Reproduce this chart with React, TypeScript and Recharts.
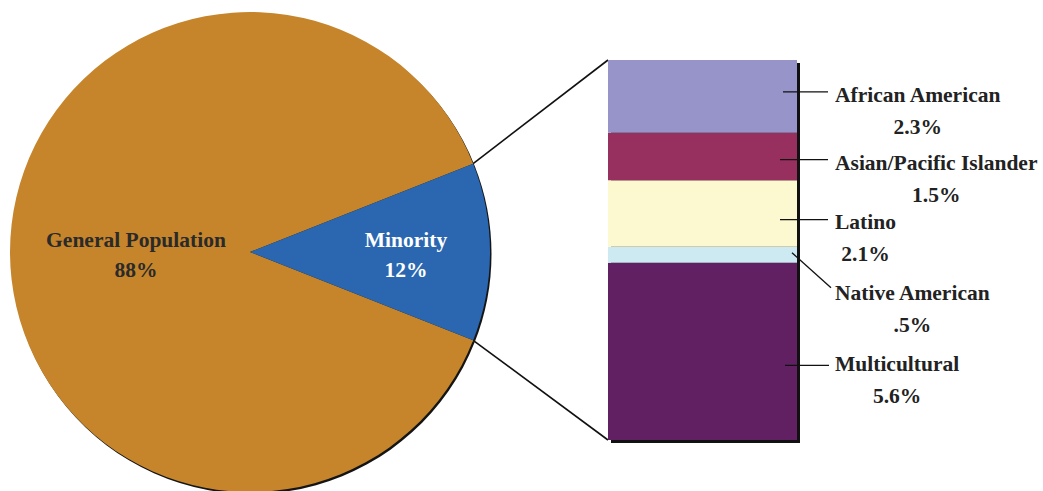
import { PieChart, Pie, Cell, BarChart, Bar, XAxis, YAxis } from "recharts";

const W = 1043;
const H = 491;

// pie data
const pieNames = ["General Population", "Minority"];
const pieValues = [88, 12];
const pieColors = ["#c6852b", "#2a67b0"];
const pieTextColors = ["#2a2a2a", "#ffffff"];

// minority breakdown, stacked bottom -> top
const groupNames = [
  "Multicultural",
  "Native American",
  "Latino",
  "Asian/Pacific Islander",
  "African American",
];
const groupValues = [5.6, 0.5, 2.1, 1.5, 2.3];
const groupLabels = ["5.6%", ".5%", "2.1%", "1.5%", "2.3%"];
const groupColors = ["#612062", "#cde9f2", "#fcf8cf", "#98305f", "#9694c8"];

const pieData = pieNames.map((name, i) => ({ name, value: pieValues[i] }));
const barRow: Record<string, number | string> = { name: "Minority" };
groupNames.forEach((n, i) => (barRow[n] = groupValues[i]));
const barData = [barRow];
const minorityTotal = groupValues.reduce((a, b) => a + b, 0);

// layout
const CX = 250;
const CY = 252;
const R = 240;
const BAR = { left: 608, right: 797, top: 60, bottom: 440 };
const RAD = Math.PI / 180;
const minorityHalf = (pieValues[1] / pieValues.reduce((a, b) => a + b, 0)) * 180;
const NO_MARGIN = { top: 0, right: 0, bottom: 0, left: 0 };

// per label: leader line start/end relative to segment, text center offset
const labelLayout = [
  { sx: -12, sy: 14, ex: 32, ey: 14, ty: 13 }, // Multicultural
  { sx: -5, sy: -2, ex: 34, ey: 33, ty: 38.5 }, // Native American
  { sx: -17, sy: 6, ex: 31, ey: 6, ty: 8 }, // Latino
  { sx: -17, sy: 3, ex: 31, ey: 3, ty: 6 }, // Asian
  { sx: -14, sy: -4.5, ex: 31, ey: -4.5, ty: -1.5 }, // African American
];

const FONT = "'Liberation Serif', 'DejaVu Serif', serif";
const FS = 21.5;

function PieLabel(props: any) {
  const { cx, cy, midAngle, outerRadius, index } = props;
  const f = index === 0 ? 0.475 : 0.65;
  const x = cx + outerRadius * f * Math.cos(-midAngle * RAD);
  return (
    <text
      x={x}
      y={cy}
      textAnchor="middle"
      fill={pieTextColors[index]}
      fontFamily={FONT}
      fontWeight="bold"
      fontSize={FS}
    >
      <tspan x={x} y={cy - 5}>
        {pieNames[index]}
      </tspan>
      <tspan x={x} y={cy + 25}>
        {pieValues[index]}%
      </tspan>
    </text>
  );
}

function makeBarLabel(i: number) {
  return (props: any) => {
    const { x, y, width, height } = props;
    const right = x + width;
    const mid = y + height / 2;
    const l = labelLayout[i];
    const textMid = mid + l.ty;
    return (
      <g>
        <line
          x1={right + l.sx}
          y1={mid + l.sy}
          x2={right + l.ex}
          y2={mid + l.ey}
          stroke="#111"
          strokeWidth={1.3}
        />
        <foreignObject x={right + 38} y={textMid - 16} width={245} height={70}>
          <div
            style={{
              display: "inline-block",
              textAlign: "center",
              fontFamily: FONT,
              fontWeight: "bold",
              fontSize: FS,
              lineHeight: "32px",
              color: "#222",
              whiteSpace: "nowrap",
            }}
          >
            {groupNames[i]}
            <br />
            {groupLabels[i]}
          </div>
        </foreignObject>
      </g>
    );
  };
}

export default function App() {
  const ax = CX + R * Math.cos(minorityHalf * RAD);
  const ayTop = CY - R * Math.sin(minorityHalf * RAD);
  const ayBot = CY + R * Math.sin(minorityHalf * RAD);
  const abs = { position: "absolute" as const, left: 0, top: 0 };

  return (
    <div style={{ position: "absolute", left: 0, top: 0, width: W, height: H, background: "#fff", overflow: "hidden" }}>
      <svg width={W} height={H} style={abs}>
        <line x1={ax} y1={ayTop} x2={BAR.left} y2={BAR.top} stroke="#111" strokeWidth={1.6} />
        <line x1={ax} y1={ayBot} x2={BAR.left} y2={BAR.bottom} stroke="#111" strokeWidth={1.6} />
        <rect
          x={BAR.left + 3}
          y={BAR.top + 3}
          width={BAR.right - BAR.left}
          height={BAR.bottom - BAR.top}
          fill="#111"
        />
      </svg>
      <div style={abs}>
        <PieChart width={W} height={H} margin={NO_MARGIN}>
          <Pie
            data={pieData}
            dataKey="value"
            cx={CX + 1.5}
            cy={CY + 2}
            outerRadius={R}
            startAngle={minorityHalf}
            endAngle={minorityHalf + 360}
            stroke="none"
            fill="#151515"
            isAnimationActive={false}
          />
          <Pie
            data={pieData}
            dataKey="value"
            cx={CX}
            cy={CY}
            outerRadius={R}
            startAngle={minorityHalf}
            endAngle={minorityHalf + 360}
            stroke="none"
            label={PieLabel}
            labelLine={false}
            isAnimationActive={false}
          >
            {pieData.map((_, i) => (
              <Cell key={i} fill={pieColors[i]} />
            ))}
          </Pie>
        </PieChart>
      </div>
      <div style={abs}>
        <BarChart
          width={W}
          height={H}
          data={barData}
          barCategoryGap={0}
          margin={{ left: BAR.left, right: W - BAR.right, top: BAR.top, bottom: H - BAR.bottom }}
        >
          <XAxis dataKey="name" hide />
          <YAxis hide domain={[0, minorityTotal]} />
          {groupNames.map((n, i) => (
            <Bar
              key={n}
              dataKey={n}
              stackId="m"
              fill={groupColors[i]}
              label={makeBarLabel(i)}
              isAnimationActive={false}
            />
          ))}
        </BarChart>
      </div>
    </div>
  );
}
